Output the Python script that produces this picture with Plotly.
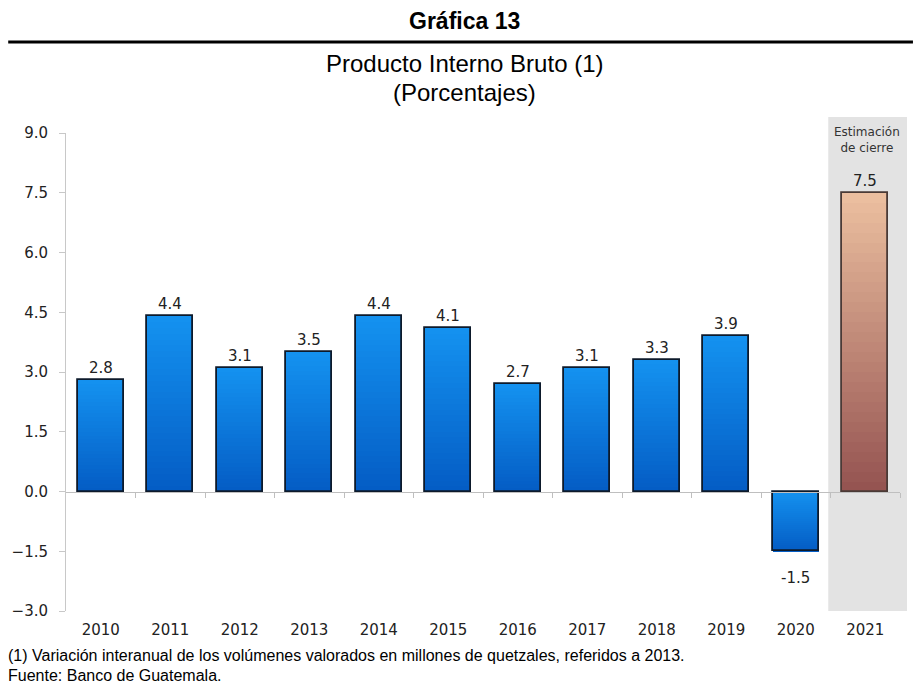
import plotly.graph_objects as go

# Data
years = ["2010", "2011", "2012", "2013", "2014", "2015",
         "2016", "2017", "2018", "2019", "2020", "2021"]
growth = [2.8, 4.4, 3.1, 3.5, 4.4, 4.1, 2.7, 3.1, 3.3, 3.9, -1.5, 7.5]
y_ticks = [-3.0, -1.5, 0.0, 1.5, 3.0, 4.5, 6.0, 7.5, 9.0]

# Gradient endpoints (top -> bottom of each bar)
BLUE_TOP, BLUE_BOT = (20, 146, 240), (4, 92, 196)
EST_TOP, EST_BOT = (236, 192, 160), (148, 82, 80)

NARROW = "Liberation Sans Narrow, Arial Narrow, Liberation Sans, Arial"
WIDE = "DejaVu Sans, Verdana, sans-serif"

W, H = 913, 692
L, R, T, B = 63, 13, 133, 81
pw, ph = W - L - R, H - T - B


def mix(c0, c1, t):
    return "rgb({},{},{})".format(*[round(a + (b - a) * t) for a, b in zip(c0, c1)])


def px(x):
    return (x - L) / pw


def py(y):
    return (H - B - y) / ph


xs = list(range(len(years)))
fig = go.Figure()

# Bars are built as thin stacked slices to give a vertical colour gradient
N = 30
for j in range(N):
    t = (j + 0.5) / N
    bases, heights, colors = [], [], []
    for i, v in enumerate(growth):
        if v >= 0:
            upper = v * (1 - j / N)
            lower = v * (1 - (j + 1) / N)
        else:
            upper = v * j / N
            lower = v * (j + 1) / N
        bases.append(lower)
        heights.append(upper - lower)
        top, bot = (EST_TOP, EST_BOT) if i == len(years) - 1 else (BLUE_TOP, BLUE_BOT)
        colors.append(mix(top, bot, t))
    fig.add_trace(go.Bar(x=xs, y=heights, base=bases, width=0.66,
                         marker=dict(color=colors, line=dict(width=0)),
                         hoverinfo="skip", showlegend=False))

# Outline of every bar
outline = ["#0d1a2b"] * (len(years) - 1) + ["#4a3a36"]
fig.add_trace(go.Bar(x=xs, y=growth, width=0.66,
                     marker=dict(color="rgba(0,0,0,0)",
                                 line=dict(color=outline, width=1.8)),
                     showlegend=False))

# Value labels
for i, v in enumerate(growth):
    fig.add_annotation(x=i, y=v, text=f"{v:.1f}", showarrow=False,
                       yshift=12 if v >= 0 else -27,
                       font=dict(family=WIDE, size=15, color="#222222"))

# Shaded estimate column
fig.add_shape(type="rect", xref="paper", yref="paper",
              x0=px(828), x1=px(907), y0=0, y1=py(117),
              fillcolor="#e3e3e3", line=dict(width=0), layer="below")
fig.add_annotation(xref="paper", yref="paper", x=px(867), y=py(140),
                   xanchor="center", yanchor="middle", align="center",
                   text="Estimación<br>de cierre", showarrow=False,
                   font=dict(family=WIDE, size=12, color="#333333"))

# Heading rule
fig.add_shape(type="line", xref="paper", yref="paper",
              x0=px(5), x1=px(913), y0=py(42), y1=py(42),
              line=dict(color="black", width=3))

titles = [
    ("<b>Gráfica 13</b>", 21, 23),
    ("Producto Interno Bruto (1)", 64, 24),
    ("(Porcentajes)", 92, 24),
]
for txt, yc, size in titles:
    fig.add_annotation(xref="paper", yref="paper", x=px(463), y=py(yc),
                       text=txt, showarrow=False,
                       xanchor="center", yanchor="middle",
                       font=dict(family=NARROW, size=size, color="black"))

notes = [
    ("(1) Variación interanual de los volúmenes valorados en millones de quetzales, referidos a 2013.", 655),
    ("Fuente: Banco de Guatemala.", 675),
]
for txt, yc in notes:
    fig.add_annotation(xref="paper", yref="paper", x=px(3), y=py(yc),
                       text=txt, showarrow=False,
                       xanchor="left", yanchor="middle",
                       font=dict(family=NARROW, size=16, color="black"))

zero_pos = (0 - (-3)) / 12

fig.update_layout(
    width=W, height=H,
    margin=dict(l=L, r=R, t=T, b=B),
    paper_bgcolor="white", plot_bgcolor="rgba(0,0,0,0)",
    barmode="overlay", bargap=0,
    xaxis=dict(range=[-0.5, len(years) - 0.5], tickvals=xs, ticktext=years,
               showgrid=False, showline=False, zeroline=False, ticks="",
               ticklabelstandoff=8,
               tickfont=dict(family=WIDE, size=15, color="#222222")),
    xaxis2=dict(range=[-0.5, len(years) - 0.5], overlaying="x",
                anchor="free", position=zero_pos, side="bottom",
                tickvals=[k + 0.5 for k in range(len(years))],
                showticklabels=False, ticks="outside", ticklen=5,
                tickcolor="#bfbfbf", showline=True, linecolor="#bfbfbf",
                linewidth=1, showgrid=False, zeroline=False),
    yaxis=dict(range=[-3, 9], tickvals=y_ticks, tickformat=".1f",
               showgrid=False, zeroline=False, showline=True,
               linecolor="#c8c8c8", ticks="outside", ticklen=6,
               tickcolor="#c8c8c8", ticklabelstandoff=8,
               tickfont=dict(family=WIDE, size=15, color="#222222")),
)
# invisible point so the zero-line axis is rendered
fig.add_trace(go.Scatter(x=[0], y=[0], xaxis="x2", mode="markers",
                         marker=dict(opacity=0), hoverinfo="skip", showlegend=False))

fig.write_html("out.html")
